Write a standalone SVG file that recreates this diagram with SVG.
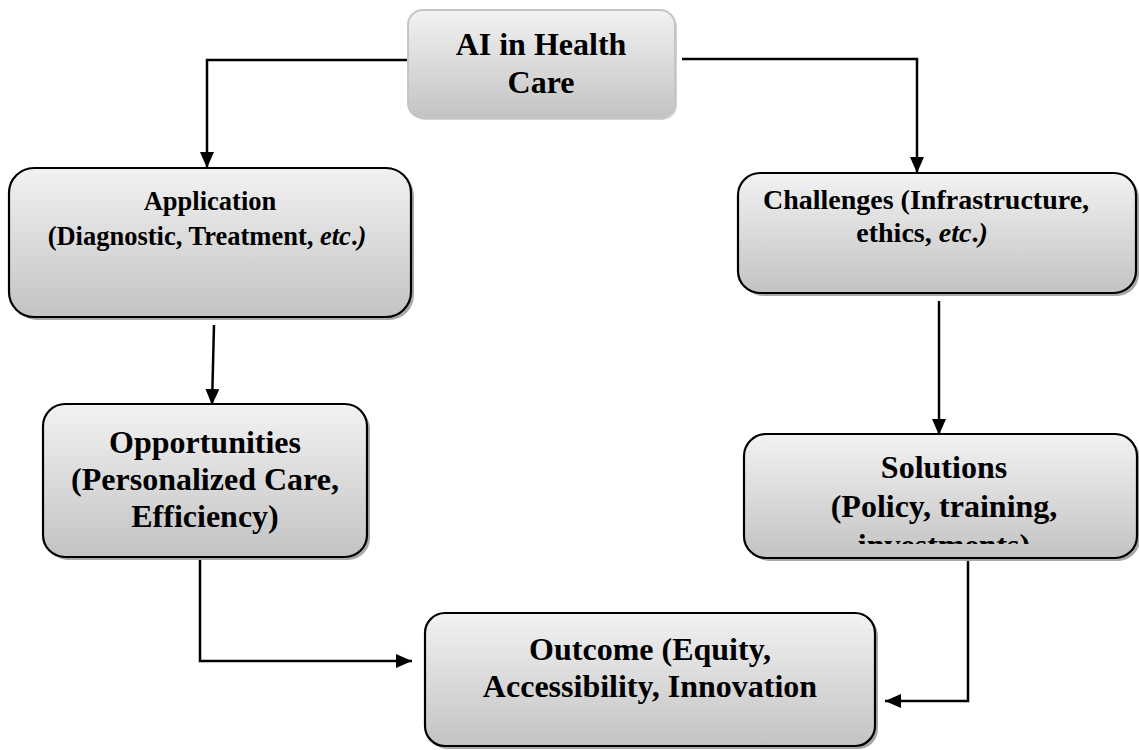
<svg xmlns="http://www.w3.org/2000/svg" width="1139" height="750" viewBox="0 0 1139 750">
<defs>
<linearGradient id="g" x1="0" y1="0" x2="0" y2="1">
<stop offset="0" stop-color="#f2f2f2"/>
<stop offset="1" stop-color="#c3c3c3"/>
</linearGradient>
<marker id="ah" viewBox="0 0 16 14" refX="16" refY="7" markerWidth="16" markerHeight="14" markerUnits="userSpaceOnUse" orient="auto">
<path d="M0,0 L16,7 L0,14 z" fill="#000"/>
</marker>
<clipPath id="solClip"><rect x="746" y="436" width="389" height="108"/></clipPath>
<style>
.box{fill:url(#g);stroke:#000;stroke-width:2.2}
.shadow{fill:#a8a8a8}
.t{font-family:"Liberation Serif","Times New Roman",serif;font-weight:bold;fill:#000;text-anchor:middle}
.conn{fill:none;stroke:#000;stroke-width:2.5}
</style>
</defs>
<rect width="1139" height="750" fill="#fff"/>

<g id="connectors">
<path class="conn" d="M408,60 H207 V168" marker-end="url(#ah)"/>
<path class="conn" d="M682,59 H917 V173" marker-end="url(#ah)"/>
<path class="conn" d="M214,325 L212,405" marker-end="url(#ah)"/>
<path class="conn" d="M939,301 V435" marker-end="url(#ah)"/>
<path class="conn" d="M200,557 V661 H412" marker-end="url(#ah)"/>
<path class="conn" d="M968,558 V701 H885" marker-end="url(#ah)"/>
</g>

<g id="ai">
<rect x="410" y="12" width="267" height="108" rx="15" fill="#b8b8b8" opacity="0.6"/>
<rect x="408" y="10" width="267" height="108" rx="15" fill="url(#g)" stroke="#c4c4c4" stroke-width="2"/>
<text class="t" x="541" y="55" font-size="32">AI in Health</text>
<text class="t" x="541" y="93" font-size="32">Care</text>
</g>

<g id="application">
<rect class="shadow" x="12" y="171" width="402" height="149" rx="25"/>
<rect class="box" x="9" y="168" width="402" height="149" rx="25"/>
<text class="t" x="210" y="210" font-size="26.5">Application</text>
<text class="t" x="207" y="245" font-size="26.5">(Diagnostic, Treatment, <tspan font-style="italic">etc</tspan>.<tspan font-style="italic">)</tspan></text>
</g>

<g id="challenges">
<rect class="shadow" x="741" y="176" width="398" height="120" rx="22"/>
<rect class="box" x="738" y="173" width="398" height="120" rx="22"/>
<text class="t" x="926" y="209" font-size="28">Challenges (Infrastructure,</text>
<text class="t" x="922" y="242" font-size="28">ethics, <tspan font-style="italic">etc</tspan>.<tspan font-style="italic">)</tspan></text>
</g>

<g id="opportunities">
<rect class="shadow" x="46" y="407" width="324" height="153" rx="22"/>
<rect class="box" x="43" y="404" width="324" height="153" rx="22"/>
<text class="t" x="205" y="453" font-size="32">Opportunities</text>
<text class="t" x="205" y="490" font-size="32">(Personalized Care,</text>
<text class="t" x="205" y="527" font-size="32">Efficiency)</text>
</g>

<g id="solutions">
<rect class="shadow" x="747" y="437" width="393" height="124" rx="22"/>
<rect class="box" x="744" y="434" width="393" height="124" rx="22"/>
<g clip-path="url(#solClip)">
<text class="t" x="944" y="478" font-size="32">Solutions</text>
<text class="t" x="944" y="517" font-size="32">(Policy, training,</text>
<text class="t" x="944" y="556" font-size="32">investments)</text>
</g>
</g>

<g id="outcome">
<rect class="shadow" x="428" y="616" width="450" height="133" rx="20"/>
<rect class="box" x="425" y="613" width="450" height="133" rx="20"/>
<text class="t" x="650" y="660" font-size="32">Outcome (Equity,</text>
<text class="t" x="650" y="697" font-size="32">Accessibility, Innovation</text>
</g>
</svg>
